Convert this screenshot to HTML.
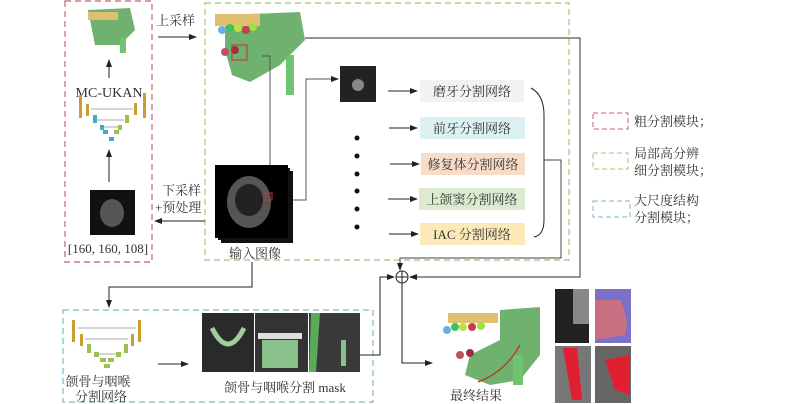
<!DOCTYPE html>
<html><head><meta charset="utf-8"><style>
html,body{margin:0;padding:0;background:#fff}
svg{display:block}
text{font-family:"Liberation Serif","Noto Serif CJK SC","Noto Sans CJK SC",serif;fill:#333}
</style></head><body>
<svg width="800" height="404" viewBox="0 0 800 404" xmlns="http://www.w3.org/2000/svg">
<defs>
<marker id="a" markerWidth="8" markerHeight="8" refX="7" refY="4" orient="auto" markerUnits="userSpaceOnUse"><path d="M0,1 L8,4 L0,7 z" fill="#222"/></marker>
</defs>
<rect x="65" y="1" width="87" height="261" fill="none" stroke="#c9606a" stroke-dasharray="6,4" stroke-width="1.2"/>
<rect x="205" y="3" width="364" height="257" fill="none" stroke="#9bc77a" stroke-dasharray="6,4" stroke-width="1.2"/>
<rect x="63" y="310" width="310" height="92" fill="none" stroke="#7fb8c8" stroke-dasharray="6,4" stroke-width="1.2"/>
<rect x="593" y="113" width="35" height="16" fill="none" stroke="#c9606a" stroke-dasharray="5,3"/>
<text x="634" y="126" font-size="13">粗分割模块；</text>
<rect x="593" y="153" width="35" height="16" fill="none" stroke="#9bc77a" stroke-dasharray="5,3"/>
<text x="634" y="158" font-size="13">局部高分辨</text>
<text x="634" y="175" font-size="13">细分割模块；</text>
<rect x="593" y="201" width="37" height="16" fill="none" stroke="#7fb8c8" stroke-dasharray="5,3"/>
<text x="634" y="205" font-size="13">大尺度结构</text>
<text x="634" y="222" font-size="13">分割模块；</text>

<path d="M88,10 L130,8 L135,30 L120,45 L95,45 Z" fill="#6fb26f"/>
<rect x="88" y="12" width="30" height="8" fill="#e0c070"/>
<rect x="120" y="38" width="6" height="15" fill="#6fc46f"/>
<line x1="109" y1="78" x2="109" y2="60" stroke="#222" marker-end="url(#a)"/>
<text x="109" y="97" font-size="14" text-anchor="middle">MC-UKAN</text>
<g fill="#c9a030"><rect x="79" y="95" width="3" height="23"/><rect x="143" y="93" width="3" height="25"/><rect x="86" y="104" width="3" height="12"/><rect x="134" y="103" width="3" height="12"/></g>
<g fill="#40a8c8"><rect x="93" y="115" width="4" height="8"/><rect x="100" y="125" width="4" height="5"/><rect x="109" y="137" width="5" height="4"/><rect x="103" y="130" width="5" height="4"/></g>
<g fill="#9bc050"><rect x="125" y="115" width="4" height="8"/><rect x="118" y="125" width="4" height="5"/><rect x="114" y="130" width="5" height="4"/></g>
<g stroke="#aaa"><line x1="91" y1="109" x2="133" y2="109"/><line x1="97" y1="120" x2="124" y2="120"/><line x1="104" y1="127" x2="118" y2="127"/></g>
<line x1="109" y1="182" x2="109" y2="150" stroke="#222" marker-end="url(#a)"/>
<rect x="90" y="190" width="45" height="45" fill="#111"/>
<ellipse cx="112" cy="213" rx="12" ry="14" fill="#555"/>
<text x="108" y="253" font-size="13" text-anchor="middle">[160, 160, 108]</text>

<text x="156" y="25" font-size="13">上采样</text>
<line x1="158" y1="37" x2="196" y2="37" stroke="#222" marker-end="url(#a)"/>
<text x="162" y="195" font-size="13">下采样</text>
<text x="155" y="212" font-size="13">+预处理</text>
<line x1="205" y1="221" x2="155" y2="221" stroke="#222" marker-end="url(#a)"/>

<path d="M225,15 L300,12 L305,40 L280,65 L250,82 L232,75 L225,50 Z" fill="#6fb26f"/>
<rect x="215" y="14" width="45" height="12" fill="#e0c070"/>
<g><circle cx="222" cy="30" r="4" fill="#6ab0e0"/><circle cx="230" cy="28" r="4" fill="#40c060"/><circle cx="238" cy="28" r="4" fill="#c0e040"/><circle cx="246" cy="30" r="4" fill="#c04050"/><circle cx="253" cy="27" r="4" fill="#a0e040"/><circle cx="225" cy="52" r="4" fill="#c05060"/><circle cx="235" cy="50" r="4" fill="#a03040"/></g>
<rect x="286" y="55" width="8" height="40" fill="#6fc46f"/>
<rect x="232" y="45" width="15" height="15" fill="none" stroke="#c03030"/>
<polyline points="305,38 580,38 580,277 410,277" fill="none" stroke="#555" stroke-width="1.2" marker-end="url(#a)"/>
<polyline points="262,56 270,56 270,200" fill="none" stroke="#555"/>
<polyline points="280,200 306,200 306,79 338,79" fill="none" stroke="#555" marker-end="url(#a)"/>
<rect x="340" y="66" width="36" height="36" fill="#222"/>
<circle cx="358" cy="85" r="6" fill="#888"/>
<rect x="221" y="171" width="72" height="72" fill="#111"/>
<rect x="218" y="168" width="72" height="72" fill="#111"/>
<rect x="215" y="165" width="73" height="73" fill="#000"/>
<ellipse cx="249" cy="202" rx="22" ry="26" fill="#555"/>
<ellipse cx="249" cy="200" rx="14" ry="16" fill="#222"/>
<rect x="265" y="193" width="7" height="7" fill="none" stroke="#d03030"/>
<text x="255" y="258" font-size="13" text-anchor="middle">输入图像</text>
<g fill="#111"><circle cx="357" cy="138" r="2.5"/><circle cx="357" cy="156" r="2.5"/><circle cx="357" cy="174" r="2.5"/><circle cx="357" cy="191" r="2.5"/><circle cx="357" cy="209" r="2.5"/><circle cx="357" cy="227" r="2.5"/></g>
<g stroke="#222">
<line x1="388" y1="91" x2="417" y2="91" marker-end="url(#a)"/>
<line x1="389" y1="128" x2="417" y2="128" marker-end="url(#a)"/>
<line x1="390" y1="164" x2="419" y2="164" marker-end="url(#a)"/>
<line x1="388" y1="199" x2="417" y2="199" marker-end="url(#a)"/>
<line x1="389" y1="234" x2="418" y2="234" marker-end="url(#a)"/>
</g>
<rect x="420" y="80" width="104" height="22" fill="#f2f2f2"/><text x="472" y="96" font-size="13" text-anchor="middle">磨牙分割网络</text>
<rect x="420" y="117" width="105" height="22" fill="#dcf2f2"/><text x="472" y="133" font-size="13" text-anchor="middle">前牙分割网络</text>
<rect x="421" y="153" width="104" height="22" fill="#f8dcc8"/><text x="473" y="169" font-size="13" text-anchor="middle">修复体分割网络</text>
<rect x="419" y="188" width="106" height="22" fill="#dcebd0"/><text x="472" y="204" font-size="13" text-anchor="middle">上颌窦分割网络</text>
<rect x="420" y="223" width="105" height="22" fill="#fbeab8"/><text x="472" y="239" font-size="13" text-anchor="middle">IAC 分割网络</text>
<path d="M531,88 Q544,95 544,115 L544,220 Q544,235 534,237" fill="none" stroke="#222"/>
<polyline points="544,160 561,160 561,258 400,258 400,270" fill="none" stroke="#444" marker-end="url(#a)"/>
<circle cx="402" cy="277" r="6" fill="#fff" stroke="#222"/>
<line x1="396" y1="277" x2="408" y2="277" stroke="#222"/><line x1="402" y1="271" x2="402" y2="283" stroke="#222"/>
<polyline points="252,262 252,287 109,287 109,307" fill="none" stroke="#222" marker-end="url(#a)"/>
<g fill="#c9a030"><rect x="72" y="320" width="3" height="22"/><rect x="138" y="320" width="3" height="22"/><rect x="80" y="334" width="3" height="12"/><rect x="131" y="334" width="3" height="12"/></g>
<g fill="#9bc050"><rect x="87" y="344" width="4" height="9"/><rect x="124" y="344" width="4" height="9"/><rect x="94" y="352" width="5" height="5"/><rect x="116" y="352" width="5" height="5"/><rect x="100" y="358" width="6" height="4"/><rect x="108" y="358" width="6" height="4"/><rect x="104" y="364" width="6" height="4"/></g>
<g stroke="#aaa"><line x1="78" y1="328" x2="136" y2="328"/><line x1="85" y1="339" x2="128" y2="339"/><line x1="94" y1="354" x2="118" y2="354"/></g>
<text x="98" y="386" font-size="13" text-anchor="middle">颌骨与咽喉</text>
<text x="101" y="401" font-size="13" text-anchor="middle">分割网络</text>
<line x1="158" y1="364" x2="188" y2="364" stroke="#222" marker-end="url(#a)"/>
<rect x="202" y="313" width="52" height="59" fill="#2a2a2a"/>
<path d="M212,328 Q228,360 244,328" fill="none" stroke="#9cd09a" stroke-width="5"/>
<rect x="255" y="313" width="53" height="59" fill="#333"/>
<rect x="262" y="340" width="36" height="28" fill="#8ac08a"/>
<rect x="258" y="333" width="44" height="6" fill="#ddd"/>
<rect x="309" y="313" width="51" height="59" fill="#3a3a3a"/>
<path d="M311,313 L320,313 L316,372 L309,372 Z" fill="#5aaa5a"/>
<rect x="341" y="340" width="5" height="26" fill="#8ac08a"/>
<text x="285" y="392" font-size="13" text-anchor="middle" fill="#222">颌骨与咽喉分割 mask</text>
<polyline points="360,355 380,355 380,277 394,277" fill="none" stroke="#222" marker-end="url(#a)"/>
<polyline points="402,283 402,363 432,363" fill="none" stroke="#222" marker-end="url(#a)"/>
<path d="M500,310 L540,307 L540,355 L520,380 L490,385 L465,375 L470,355 L500,340 Z" fill="#6fb26f"/>
<rect x="448" y="313" width="50" height="10" fill="#e0c070"/>
<g><circle cx="447" cy="330" r="4" fill="#6ab0e0"/><circle cx="455" cy="327" r="4" fill="#40c060"/><circle cx="463" cy="327" r="4" fill="#c0e040"/><circle cx="472" cy="327" r="4" fill="#c04050"/><circle cx="481" cy="326" r="4" fill="#a0e040"/><circle cx="460" cy="355" r="4" fill="#c05060"/><circle cx="470" cy="353" r="4" fill="#a03040"/></g>
<rect x="513" y="355" width="10" height="30" fill="#6fc46f"/>
<path d="M478,382 Q505,372 520,345" fill="none" stroke="#d02020" stroke-width="1.2"/>
<text x="476" y="400" font-size="13" text-anchor="middle">最终结果</text>
<rect x="555" y="289" width="34" height="54" fill="#222"/>
<rect x="573" y="289" width="16" height="35" fill="#888"/>
<rect x="595" y="289" width="36" height="54" fill="#7b70c8"/>
<path d="M595,300 L620,300 Q630,320 625,335 L595,340 Z" fill="#c87080"/>
<rect x="555" y="346" width="36" height="57" fill="#777"/>
<path d="M563,348 L577,348 L582,400 L572,400 Z" fill="#e02030"/>
<rect x="595" y="346" width="36" height="57" fill="#666"/>
<path d="M605,360 L630,355 L630,395 L615,390 Z" fill="#e02030"/>
</svg>
</body></html>
